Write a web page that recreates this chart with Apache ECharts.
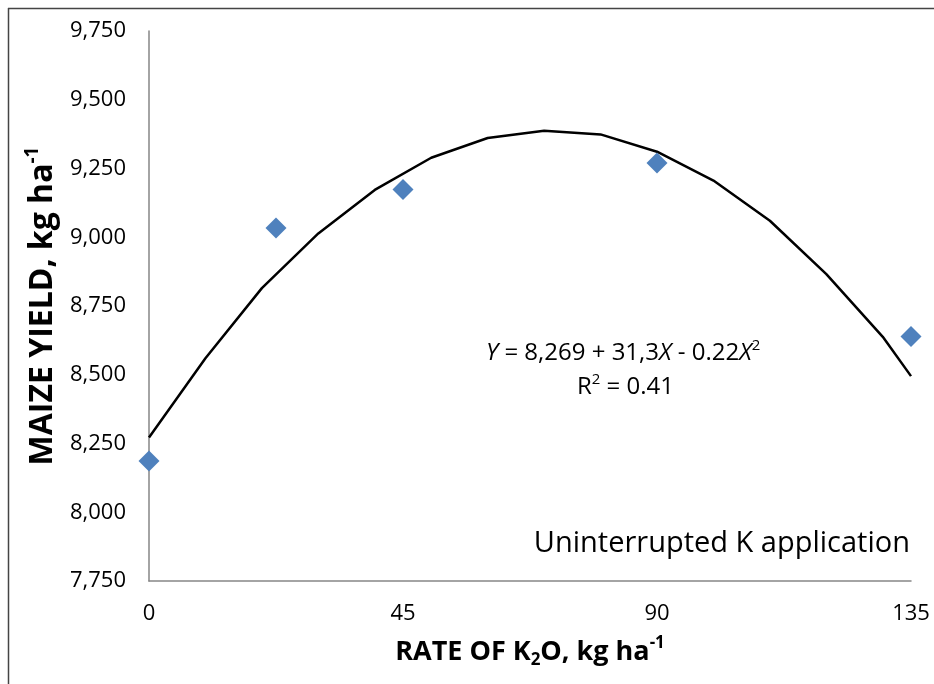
<!DOCTYPE html>
<html lang="en">
<head>
    <meta charset="UTF-8">
    <title>Maize yield vs K2O rate</title>
    <script src="https://cdn.jsdelivr.net/npm/echarts@6/dist/echarts.min.js"></script>
    <style>
        body { margin: 0; padding: 0; background: #ffffff; }
        #chart { width: 934px; height: 684px; }
    </style>
</head>
<body>
<div id="chart"></div>
<script>
    // observed yields (kg/ha) at each K2O rate
    const obsRate = [0, 22.5, 45, 90, 135];
    const obsYield = [8186, 9034, 9174, 9270, 8639];

    // fitted quadratic curve
    const fitRate = [0, 10, 20, 30, 40, 50, 60, 70, 80, 90, 100, 110, 120, 130, 135];
    const fitYield = [8272, 8560, 8815, 9014, 9172, 9289, 9361, 9387, 9374, 9311, 9206, 9060, 8866, 8638, 8495];

    const xTicks = [0, 45, 90, 135];

    const FONT = "'Open Sans', 'Noto Sans', sans-serif";
    const chart = echarts.init(document.getElementById("chart"));

    chart.setOption({
        backgroundColor: "#ffffff",
        animation: false,
        textStyle: { fontFamily: FONT, color: "#000" },
        grid: { left: 149, right: 23, top: 31, bottom: 103 },
        xAxis: {
            type: "value",
            min: xTicks[0],
            max: xTicks[xTicks.length - 1],
            interval: 45,
            axisLine: { lineStyle: { color: "#868686", width: 1.5 } },
            axisTick: { show: false },
            splitLine: { show: false },
            axisLabel: { fontSize: 22, color: "#000", margin: 22, fontFamily: FONT },
            name: "{b|RATE OF K}{sub|2}{b|O, kg ha}{sup|-1}",
            nameLocation: "middle",
            nameGap: 54,
            nameTextStyle: {
                rich: {
                    b: { fontSize: 27, fontWeight: "bold", fontFamily: FONT, lineHeight: 34, color: "#000" },
                    sub: { fontSize: 17, fontWeight: "bold", fontFamily: FONT, lineHeight: 34, verticalAlign: "bottom", color: "#000" },
                    sup: { fontSize: 17, fontWeight: "bold", fontFamily: FONT, lineHeight: 34, verticalAlign: "top", color: "#000" }
                }
            }
        },
        yAxis: {
            type: "value",
            min: 7750,
            max: 9750,
            interval: 250,
            axisLine: { show: true, lineStyle: { color: "#868686", width: 1.5 } },
            axisTick: { show: false },
            splitLine: { show: false },
            axisLabel: {
                fontSize: 22, color: "#000", margin: 23, fontFamily: FONT,
                formatter: (v) => v.toLocaleString("en-US")
            },
            name: "{b|MAIZE YIELD, kg ha}{sup|-1}",
            nameLocation: "middle",
            nameRotate: 90,
            nameGap: 83,
            nameTextStyle: {
                rich: {
                    b: { fontSize: 32, fontWeight: "bold", fontFamily: FONT, lineHeight: 40, color: "#000" },
                    sup: { fontSize: 19, fontWeight: "bold", fontFamily: FONT, lineHeight: 40, verticalAlign: "top", color: "#000" }
                }
            }
        },
        graphic: [
            // frame lines of the original figure (top and left only)
            { type: "line", shape: { x1: 8, y1: 8.5, x2: 934, y2: 8.5 }, style: { stroke: "#444", lineWidth: 1.5 } },
            { type: "line", shape: { x1: 8.5, y1: 8, x2: 8.5, y2: 684 }, style: { stroke: "#444", lineWidth: 1.5 } },
            {
                type: "text", left: 486, top: 338,
                style: {
                    text: "{i|Y} = 8,269 + 31,3{i|X} - 0.22{i|X}{sup|2}",
                    font: "24px " + FONT, fill: "#000",
                    rich: {
                        i: { fontStyle: "italic", fontSize: 24, fontFamily: FONT, lineHeight: 30 },
                        sup: { fontSize: 15, fontFamily: FONT, lineHeight: 30, verticalAlign: "top" }
                    }
                }
            },
            {
                type: "text", left: 577, top: 372,
                style: {
                    text: "R{sup|2} = 0.41",
                    font: "24px " + FONT, fill: "#000",
                    rich: {
                        sup: { fontSize: 15, fontFamily: FONT, lineHeight: 30, verticalAlign: "top" }
                    }
                }
            },
            {
                type: "text", right: 24, top: 529,
                style: { text: "Uninterrupted K application", font: "29px " + FONT, fill: "#000" }
            }
        ],
        series: [
            {
                name: "Fit",
                type: "line",
                data: fitRate.map((x, i) => [x, fitYield[i]]),
                showSymbol: false,
                lineStyle: { color: "#000", width: 2.5 },
                z: 2
            },
            {
                name: "Observed",
                type: "scatter",
                data: obsRate.map((x, i) => [x, obsYield[i]]),
                symbol: "diamond",
                symbolSize: [21, 21],
                itemStyle: { color: "#4F81BD", opacity: 1 },
                z: 3
            }
        ]
    });
</script>
</body>
</html>
